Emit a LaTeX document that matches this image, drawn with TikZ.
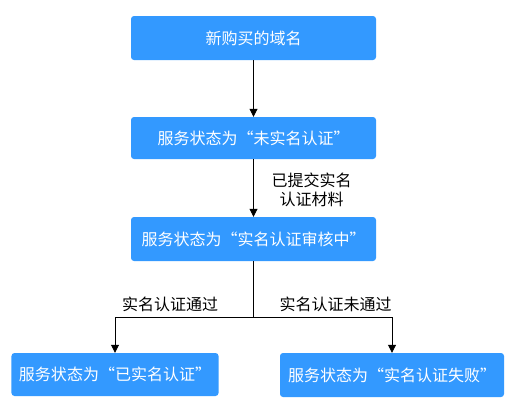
\documentclass[tikz,border=0pt]{standalone}
\usepackage{fontspec}
\setmainfont{Noto Sans CJK SC}
\usetikzlibrary{arrows.meta}
\definecolor{boxblue}{RGB}{51,153,255}
\begin{document}
\begin{tikzpicture}[x=1bp,y=-1bp,
  box/.style={draw=none,fill=boxblue,rounded corners=3bp,text=white,inner sep=0pt,
    font=\fontsize{16bp}{19bp}\selectfont},
  lbl/.style={inner sep=0pt,align=center,font=\fontsize{16bp}{19bp}\selectfont},
  arr/.style={-{Triangle[length=8bp,width=8bp]},line width=0.8bp,black},
  ln/.style={line width=0.8bp,black}]
\useasboundingbox (0,0) rectangle (516,407);
\node[box,minimum width=245bp,minimum height=44bp] (b1) at (253.5,38) {新购买的域名};
\node[box,minimum width=245bp,minimum height=42bp] (b2) at (253.5,138) {服务状态为“未实名认证”};
\node[box,minimum width=245bp,minimum height=44bp] (b3) at (253.5,239) {服务状态为“实名认证审核中”};
\node[box,minimum width=207bp,minimum height=43bp] (bl) at (115,374.5) {服务状态为“已实名认证”};
\node[box,minimum width=224bp,minimum height=44bp] (br) at (392,375) {服务状态为“实名认证失败”};
\coordinate (j) at (253.5,317);
\draw[arr] (b1) -- (b2);
\draw[arr] (b2) -- (b3);
\draw[ln] (b3.south) -- (j);
\draw[arr] (j) -| (bl.north);
\draw[arr] (j) -| (br.north);
\node[lbl] (l1) at (311.5,189.5) {已提交实名\\认证材料};
\node[lbl] (l2) at (170,304) {实名认证通过};
\node[lbl] (l3) at (335.5,304) {实名认证未通过};
\end{tikzpicture}
\end{document}
